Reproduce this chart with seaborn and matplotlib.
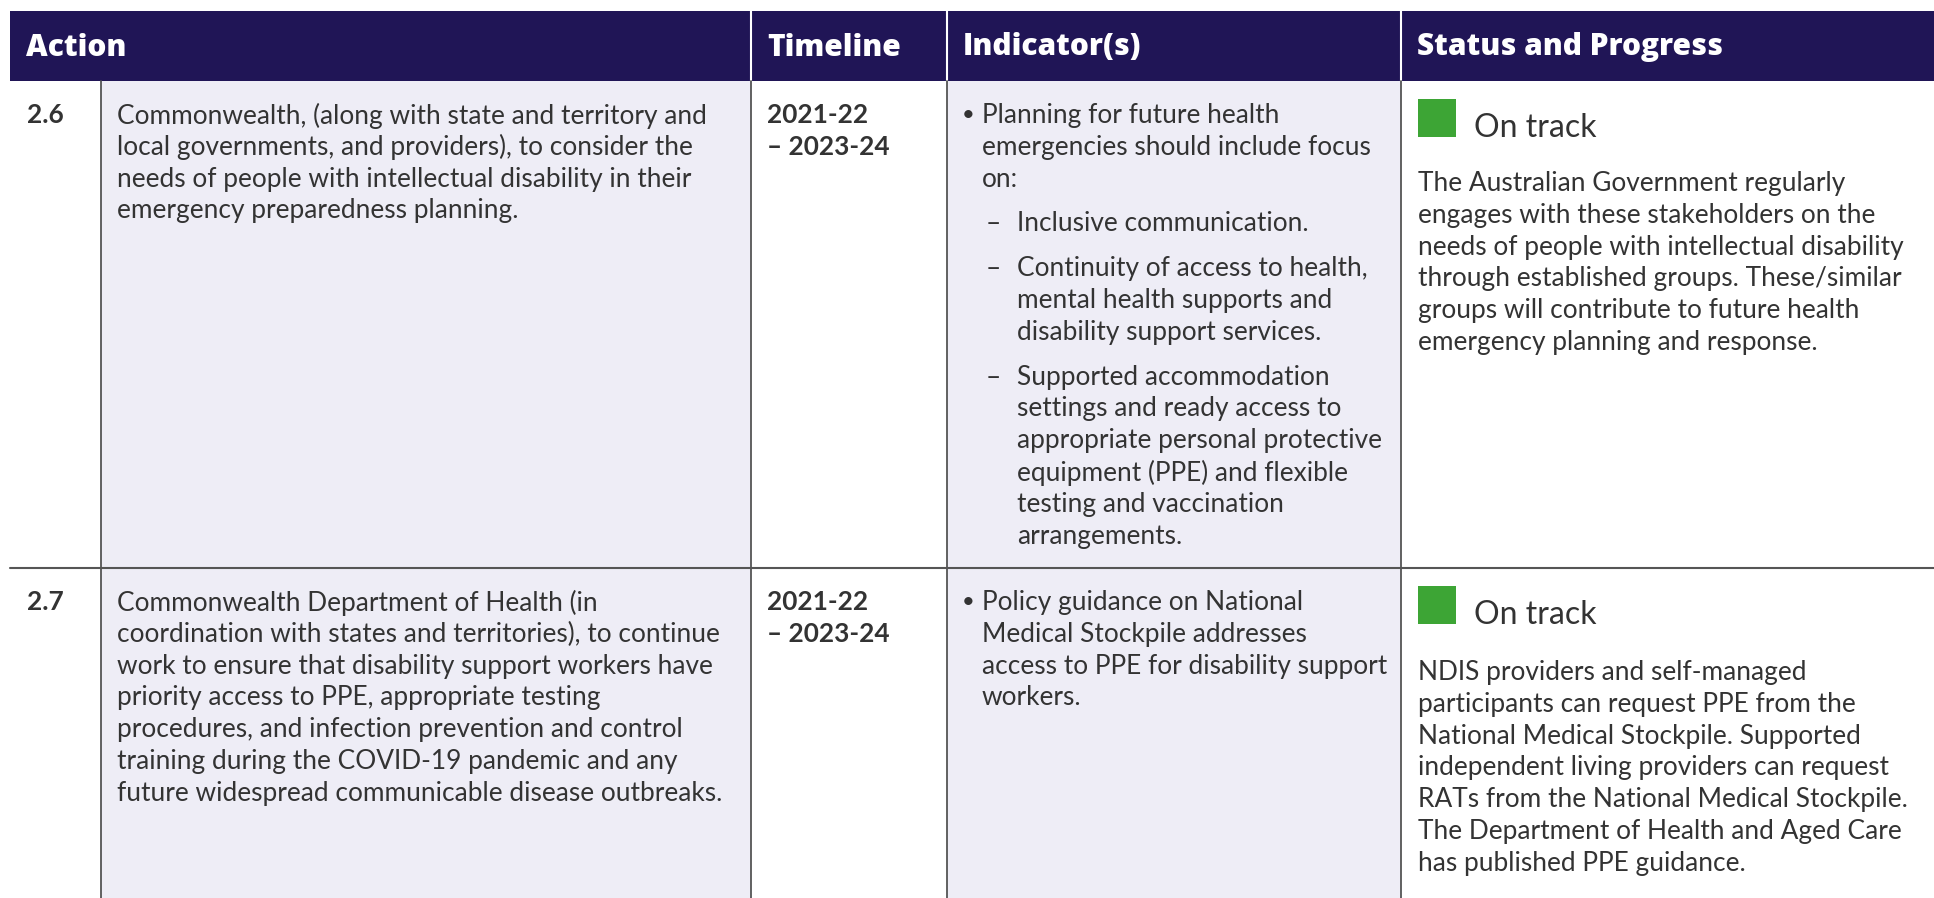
import matplotlib
matplotlib.use("Agg")
import matplotlib.pyplot as plt
import seaborn as sns
from matplotlib.patches import Rectangle

# ---- table content ----
headers = ["Action", "Timeline", "Indicator(s)", "Status and Progress"]

action_ids = ["2.6", "2.7"]

action_texts = [
    ["Commonwealth, (along with state and territory and",
     "local governments, and providers), to consider the",
     "needs of people with intellectual disability in their",
     "emergency preparedness planning."],
    ["Commonwealth Department of Health (in",
     "coordination with states and territories), to continue",
     "work to ensure that disability support workers have",
     "priority access to PPE, appropriate testing",
     "procedures, and infection prevention and control",
     "training during the COVID-19 pandemic and any",
     "future widespread communicable disease outbreaks."],
]

timelines = [
    ["2021-22", "\u2013 2023-24"],
    ["2021-22", "\u2013 2023-24"],
]

# (level, lines): level 1 = bullet, level 2 = dash sub-item
indicators = [
    [(1, ["Planning for future health",
          "emergencies should include focus",
          "on:"]),
     (2, ["Inclusive communication."]),
     (2, ["Continuity of access to health,",
          "mental health supports and",
          "disability support services."]),
     (2, ["Supported accommodation",
          "settings and ready access to",
          "appropriate personal protective",
          "equipment (PPE) and flexible",
          "testing and vaccination",
          "arrangements."])],
    [(1, ["Policy guidance on National",
          "Medical Stockpile addresses",
          "access to PPE for disability support",
          "workers."])],
]

statuses = ["On track", "On track"]

status_texts = [
    ["The Australian Government regularly",
     "engages with these stakeholders on the",
     "needs of people with intellectual disability",
     "through established groups. These/similar",
     "groups will contribute to future health",
     "emergency planning and response."],
    ["NDIS providers and self-managed",
     "participants can request PPE from the",
     "National Medical Stockpile. Supported",
     "independent living providers can request",
     "RATs from the National Medical Stockpile.",
     "The Department of Health and Aged Care",
     "has published PPE guidance."],
]

# ---- style ----
NAVY = "#201556"
LAVENDER = "#EEEDF6"
GREEN = "#3DA535"
TEXT = "#333333"
LINE = "#555555"

W, H = 1934, 898
col_x = [10, 101, 751, 947, 1401, W]   # column edges
header_top, header_bot = 11, 81
row_tops = [81, 568]
row_bots = [568, H]
line_h = 31.8
body_size = 18.9

sns.set_theme(style="white")
plt.rcParams["font.family"] = ["Lato", "DejaVu Sans"]

fig = plt.figure(figsize=(W / 100, H / 100), dpi=100)
ax = fig.add_axes([0, 0, 1, 1])
ax.set_xlim(0, W)
ax.set_ylim(H, 0)
ax.axis("off")

# header band
ax.add_patch(Rectangle((col_x[0], header_top), W - col_x[0], header_bot - header_top,
                       facecolor=NAVY, edgecolor="none"))
for x in col_x[2:5]:
    ax.plot([x, x], [header_top, header_bot], color="white", lw=1.5)
head_x = [col_x[0] + 16, col_x[2] + 16, col_x[3] + 16, col_x[4] + 16]
for hx, h in zip(head_x, headers):
    ax.text(hx, (header_top + header_bot) / 2 - 2, h, color="white",
            fontsize=21.5, fontweight="heavy", va="center_baseline",
            family=["Open Sans", "DejaVu Sans"])

# body shading + grid lines
for top, bot in zip(row_tops, row_bots):
    ax.add_patch(Rectangle((col_x[1], top), col_x[2] - col_x[1], bot - top,
                           facecolor=LAVENDER, edgecolor="none"))
    ax.add_patch(Rectangle((col_x[3], top), col_x[4] - col_x[3], bot - top,
                           facecolor=LAVENDER, edgecolor="none"))
for x in col_x[1:5]:
    ax.plot([x, x], [header_bot, H], color=LINE, lw=1.3)
ax.plot([col_x[0], W], [row_bots[0], row_bots[0]], color=LINE, lw=1.5)


def draw_lines(x, y0, lines, **kw):
    for i, s in enumerate(lines):
        ax.text(x, y0 + i * line_h, s, color=TEXT, fontsize=body_size,
                va="center_baseline", **kw)


for r, top in enumerate(row_tops):
    y0 = top + 32
    ax.text(col_x[0] + 17, y0, action_ids[r], color=TEXT, fontsize=body_size,
            fontweight="bold", va="center_baseline")
    draw_lines(col_x[1] + 16, y0, action_texts[r])
    draw_lines(col_x[2] + 16, y0, timelines[r], fontweight="bold")

    # indicators
    y = y0
    for level, lines in indicators[r]:
        if level == 1:
            ax.text(col_x[3] + 15, y, "\u2022", color=TEXT, fontsize=body_size - 3,
                    va="center_baseline")
            draw_lines(col_x[3] + 35, y, lines)
        else:
            y += 13
            ax.text(col_x[3] + 39, y, "\u2013", color=TEXT, fontsize=body_size,
                    va="center_baseline")
            draw_lines(col_x[3] + 70, y, lines)
        y += len(lines) * line_h

    # status
    sq_top = top + 18
    ax.add_patch(Rectangle((col_x[4] + 17, sq_top), 38, 38,
                           facecolor=GREEN, edgecolor="none"))
    ax.text(col_x[4] + 73, sq_top + 26, statuses[r], color=TEXT, fontsize=23,
            va="center_baseline")
    draw_lines(col_x[4] + 17, top + 100 + 2 * r, status_texts[r])

fig.savefig("out.png", dpi=100)
